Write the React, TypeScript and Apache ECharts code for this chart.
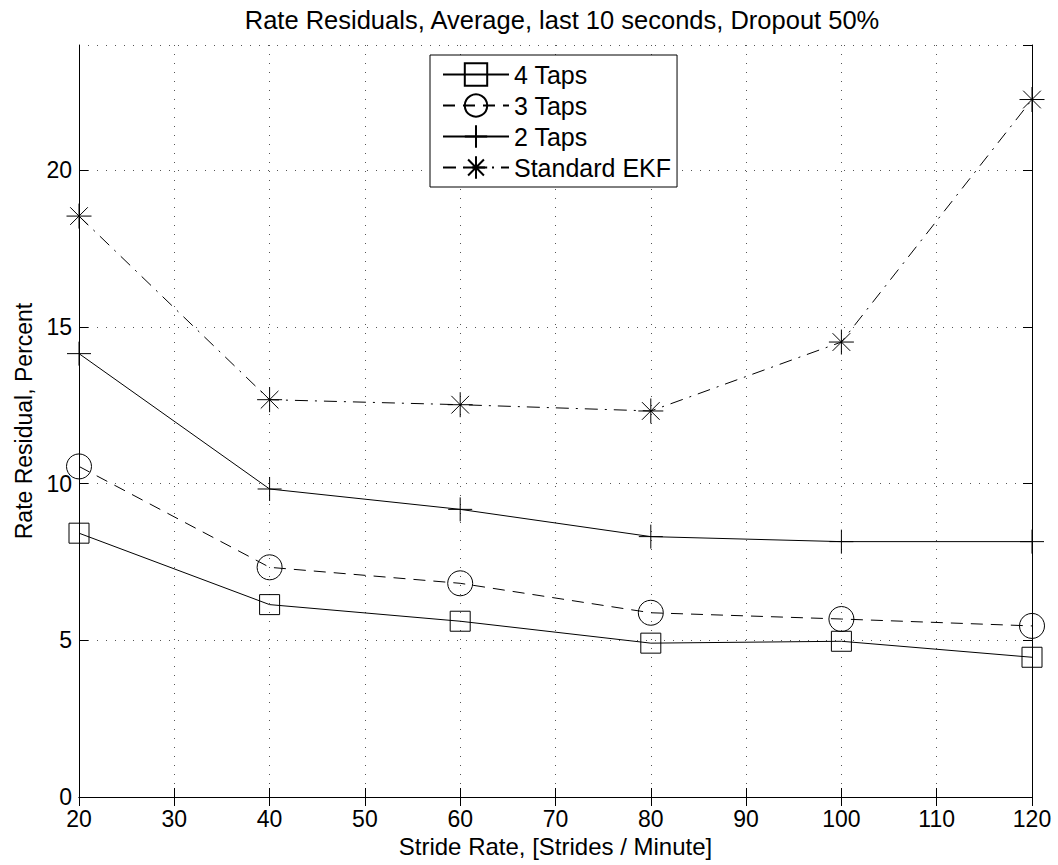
import React, { useEffect, useRef } from "react";
import * as echarts from "echarts";

const strideRates = [20, 40, 60, 80, 100, 120];
const taps4 = [8.42, 6.14, 5.61, 4.91, 4.97, 4.46];
const taps3 = [10.55, 7.33, 6.82, 5.88, 5.68, 5.46];
const taps2 = [14.15, 9.83, 9.18, 8.31, 8.15, 8.15];
const standardEKF = [18.54, 12.68, 12.52, 12.32, 14.52, 22.26];

const seriesNames = ["4 Taps", "3 Taps", "2 Taps", "Standard EKF"];
const titleText = "Rate Residuals, Average, last 10 seconds, Dropout 50%";
const xName = "Stride Rate, [Strides / Minute]";
const yName = "Rate Residual, Percent";

const FONT = "'Liberation Sans', Arial, Helvetica, sans-serif";

const PLUS = "path://M0,-1L0,1M-1,0L1,0";
const STAR =
  "path://M0,-1L0,1M-1,0L1,0M-0.707,-0.707L0.707,0.707M-0.707,0.707L0.707,-0.707";

function pairs(vals: number[]) {
  return strideRates.map((x, i) => [x, vals[i]]);
}

export default function App() {
  const ref = useRef<HTMLDivElement>(null);
  useEffect(() => {
    if (!ref.current) return;
    const chart = echarts.init(ref.current, null, { renderer: "svg" });
    const markerStyle = {
      color: "transparent",
      borderColor: "#000",
      borderWidth: 1,
    };
    const mk = (
      name: string,
      vals: number[],
      symbol: string,
      size: number,
      lineType: any
    ) => ({
      name,
      type: "line",
      data: pairs(vals),
      symbol,
      symbolSize: size,
      showSymbol: true,
      xAxisIndex: 0,
      yAxisIndex: 0,
      lineStyle: { color: "#000", width: 1, type: lineType },
      itemStyle: markerStyle,
      emphasis: { disabled: true },
      z: 3,
    });
    const gridLine = {
      show: true,
      lineStyle: { color: "#555", width: 1, type: [1, 8] as any },
    };
    const tickInside = {
      show: true,
      inside: true,
      length: 9,
      lineStyle: { color: "#000", width: 1 },
    };
    const axisLineStyle = { show: true, lineStyle: { color: "#000", width: 1 } };
    chart.setOption({
      animation: false,
      backgroundColor: "#fff",
      textStyle: { fontFamily: FONT },
      title: {
        text: titleText,
        left: 557,
        top: 2,
        textAlign: "center",
        textStyle: {
          fontFamily: FONT,
          fontSize: 25.5,
          fontWeight: "normal",
          color: "#000",
        },
      },
      grid: { left: 79, right: 26, top: 45, bottom: 68, containLabel: false },
      legend: {
        orient: "vertical",
        left: 430,
        top: 55,
        padding: [7, 6, 7, 12],
        itemGap: 6,
        itemWidth: 66,
        itemHeight: 28,
        backgroundColor: "#fff",
        borderColor: "#000",
        borderWidth: 1,
        borderRadius: 0,
        data: seriesNames,
        textStyle: { fontFamily: FONT, fontSize: 25, color: "#000" },
      },
      xAxis: [
        {
          type: "value",
          min: 20,
          max: 120,
          interval: 10,
          name: xName,
          nameLocation: "middle",
          nameGap: 30,
          nameTextStyle: { fontFamily: FONT, fontSize: 24, color: "#000" },
          axisLine: axisLineStyle,
          axisTick: tickInside,
          axisLabel: {
            fontFamily: FONT,
            fontSize: 23,
            lineHeight: 23,
            color: "#000",
            margin: 10,
          },
          splitLine: gridLine,
        },
        {
          type: "value",
          position: "top",
          min: 20,
          max: 120,
          interval: 10,
          axisLine: axisLineStyle,
          axisTick: tickInside,
          axisLabel: { show: false },
          splitLine: { show: false },
        },
      ],
      yAxis: [
        {
          type: "value",
          min: 0,
          max: 24,
          interval: 5,
          name: yName,
          nameLocation: "middle",
          nameGap: 44,
          nameTextStyle: { fontFamily: FONT, fontSize: 23, color: "#000" },
          axisLine: axisLineStyle,
          axisTick: tickInside,
          axisLabel: {
            fontFamily: FONT,
            fontSize: 23,
            lineHeight: 18,
            color: "#000",
            margin: 7,
            showMaxLabel: false,
          },
          splitLine: gridLine,
        },
        {
          type: "value",
          position: "right",
          min: 0,
          max: 24,
          interval: 5,
          axisLine: axisLineStyle,
          axisTick: tickInside,
          axisLabel: { show: false },
          splitLine: { show: false },
        },
      ],
      series: [
        mk(seriesNames[0], taps4, "rect", 20, "solid"),
        mk(seriesNames[1], taps3, "circle", 25, [12, 8]),
        mk(seriesNames[2], taps2, PLUS, 24, "solid"),
        mk(seriesNames[3], standardEKF, STAR, 25, [13, 7, 2, 7]),
      ],
    });
    return () => chart.dispose();
  }, []);
  return (
    <div
      ref={ref}
      style={{ position: "fixed", left: 0, top: 0, width: 1058, height: 865 }}
    />
  );
}
